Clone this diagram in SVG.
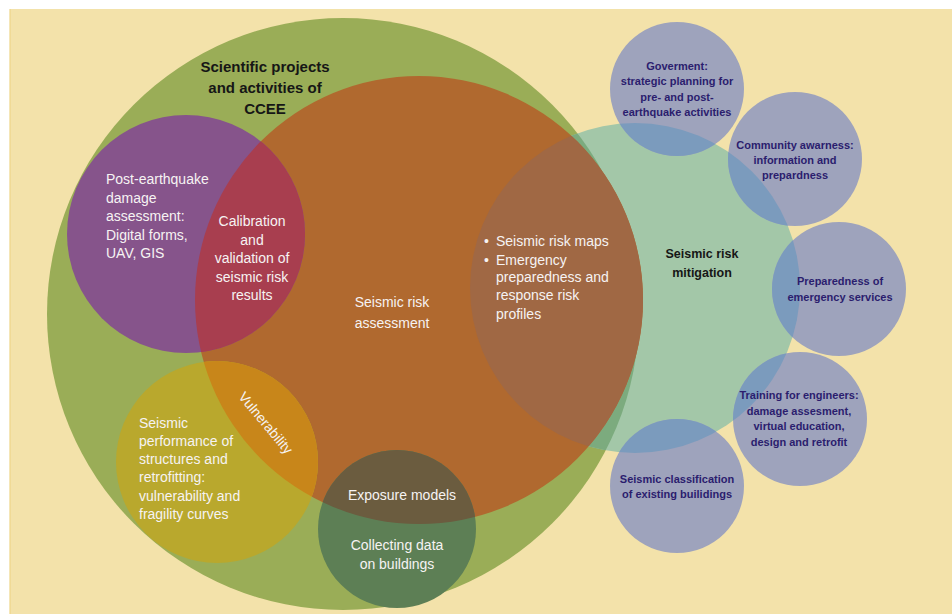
<svg xmlns="http://www.w3.org/2000/svg" width="952" height="614" viewBox="0 0 952 614">
<defs>
  <clipPath id="cp-mit"><circle cx="635" cy="288" r="165"/></clipPath>
  <clipPath id="cp-org"><circle cx="419" cy="300" r="224"/></clipPath>
</defs>
<style>
  .w { font-family: "Liberation Sans", Arial, sans-serif; font-size: 14px; fill: #f6f3f3; }
  .m { text-anchor: middle; }
  .k { font-family: "Liberation Sans", Arial, sans-serif; font-weight: bold; fill: #161616; text-anchor: middle; }
  .b { font-family: "Liberation Sans", Arial, sans-serif; font-size: 11px; font-weight: bold; fill: #2b1d6e; text-anchor: middle; }
  .blue { fill: #9ea3bc; }
  .blue-ov { fill: #7b9bbd; }
</style>

<rect width="952" height="614" fill="#ffffff"/>
<rect x="10" y="9" width="942" height="605" fill="#f3e2aa"/>
<line x1="10" y1="9" x2="10" y2="614" stroke="#eed588" stroke-width="1.2"/>

<g id="ccee">
  <circle cx="343" cy="314" r="296" fill="#9aad57"/>
</g>

<g id="mitigation">
  <circle cx="635" cy="288" r="165" fill="#a3c7a8"/>
  <circle cx="343" cy="314" r="296" fill="#7cab7e" clip-path="url(#cp-mit)"/>
</g>

<g id="assessment">
  <circle cx="419" cy="300" r="224" fill="#b0692f"/>
  <circle cx="419" cy="300" r="224" fill="#a06844" clip-path="url(#cp-mit)"/>
</g>

<g id="post-earthquake">
  <circle cx="186" cy="234" r="119" fill="#86548b"/>
  <circle cx="186" cy="234" r="119" fill="#a83e4f" clip-path="url(#cp-org)"/>
</g>

<g id="performance">
  <circle cx="217" cy="462" r="101" fill="#b9a82d"/>
  <circle cx="217" cy="462" r="101" fill="#c8861a" clip-path="url(#cp-org)"/>
</g>

<g id="exposure">
  <circle cx="397" cy="529" r="79" fill="#5d7f55"/>
  <circle cx="397" cy="529" r="79" fill="#6b5c3f" clip-path="url(#cp-org)"/>
</g>

<g id="government">
  <circle class="blue" cx="677" cy="89" r="67"/>
  <circle class="blue-ov" cx="677" cy="89" r="67" clip-path="url(#cp-mit)"/>
</g>
<g id="community">
  <circle class="blue" cx="795" cy="159" r="67"/>
  <circle class="blue-ov" cx="795" cy="159" r="67" clip-path="url(#cp-mit)"/>
</g>
<g id="emergency-services">
  <circle class="blue" cx="839" cy="289" r="67"/>
  <circle class="blue-ov" cx="839" cy="289" r="67" clip-path="url(#cp-mit)"/>
</g>
<g id="training">
  <circle class="blue" cx="800" cy="419" r="67"/>
  <circle class="blue-ov" cx="800" cy="419" r="67" clip-path="url(#cp-mit)"/>
</g>
<g id="classification">
  <circle class="blue" cx="677" cy="486" r="67"/>
  <circle class="blue-ov" cx="677" cy="486" r="67" clip-path="url(#cp-mit)"/>
</g>

<g id="connectors"/>

<g id="labels">
  <text class="k" font-size="15" x="265" y="72">Scientific projects</text>
  <text class="k" font-size="15" x="265" y="93">and activities of</text>
  <text class="k" font-size="15" x="265" y="114">CCEE</text>

  <text class="w" x="106" y="184">Post-earthquake</text>
  <text class="w" x="106" y="202.5">damage</text>
  <text class="w" x="106" y="221">assessment:</text>
  <text class="w" x="106" y="239.5">Digital forms,</text>
  <text class="w" x="106" y="258">UAV, GIS</text>

  <text class="w m" x="252" y="226">Calibration</text>
  <text class="w m" x="252" y="244.5">and</text>
  <text class="w m" x="252" y="263">validation of</text>
  <text class="w m" x="252" y="281.5">seismic risk</text>
  <text class="w m" x="252" y="300">results</text>

  <text class="w m" font-size="15.5" x="392" y="307">Seismic risk</text>
  <text class="w m" font-size="15.5" x="392" y="328">assessment</text>

  <text class="w" x="484" y="246">•</text>
  <text class="w" x="484" y="264.5">•</text>
  <text class="w" x="496" y="246">Seismic risk maps</text>
  <text class="w" x="496" y="264.5">Emergency</text>
  <text class="w" x="496" y="282">preparedness and</text>
  <text class="w" x="496" y="300">response risk</text>
  <text class="w" x="496" y="318.5">profiles</text>

  <text class="k" font-size="12.5" x="702" y="257.5">Seismic risk</text>
  <text class="k" font-size="12.5" x="702" y="276.5">mitigation</text>

  <text class="w" x="139" y="427.5">Seismic</text>
  <text class="w" x="139" y="446">performance of</text>
  <text class="w" x="139" y="464">structures and</text>
  <text class="w" x="139" y="482">retrofitting:</text>
  <text class="w" x="139" y="500.5">vulnerability and</text>
  <text class="w" x="139" y="519">fragility curves</text>

  <text class="w m" font-size="14.5" x="262" y="426" transform="rotate(50 262 426)">Vulnerability</text>

  <text class="w m" x="402" y="499.5">Exposure models</text>
  <text class="w m" x="397" y="550">Collecting data</text>
  <text class="w m" x="397" y="568.5">on buildings</text>

  <text class="b" x="677" y="69.5">Goverment:</text>
  <text class="b" x="677" y="85">strategic planning for</text>
  <text class="b" x="677" y="100.5">pre- and post-</text>
  <text class="b" x="677" y="116">earthquake activities</text>

  <text class="b" x="795" y="148.5">Community awarness:</text>
  <text class="b" x="795" y="163.5">information and</text>
  <text class="b" x="795" y="178.5">prepardness</text>

  <text class="b" x="840" y="285">Preparedness of</text>
  <text class="b" x="840" y="300.5">emergency services</text>

  <text class="b" x="799" y="399">Training for engineers:</text>
  <text class="b" x="799" y="414.5">damage assesment,</text>
  <text class="b" x="799" y="430">virtual education,</text>
  <text class="b" x="799" y="445.5">design and retrofit</text>

  <text class="b" x="677" y="482.5">Seismic classification</text>
  <text class="b" x="677" y="498">of existing builidings</text>
</g>
</svg>
